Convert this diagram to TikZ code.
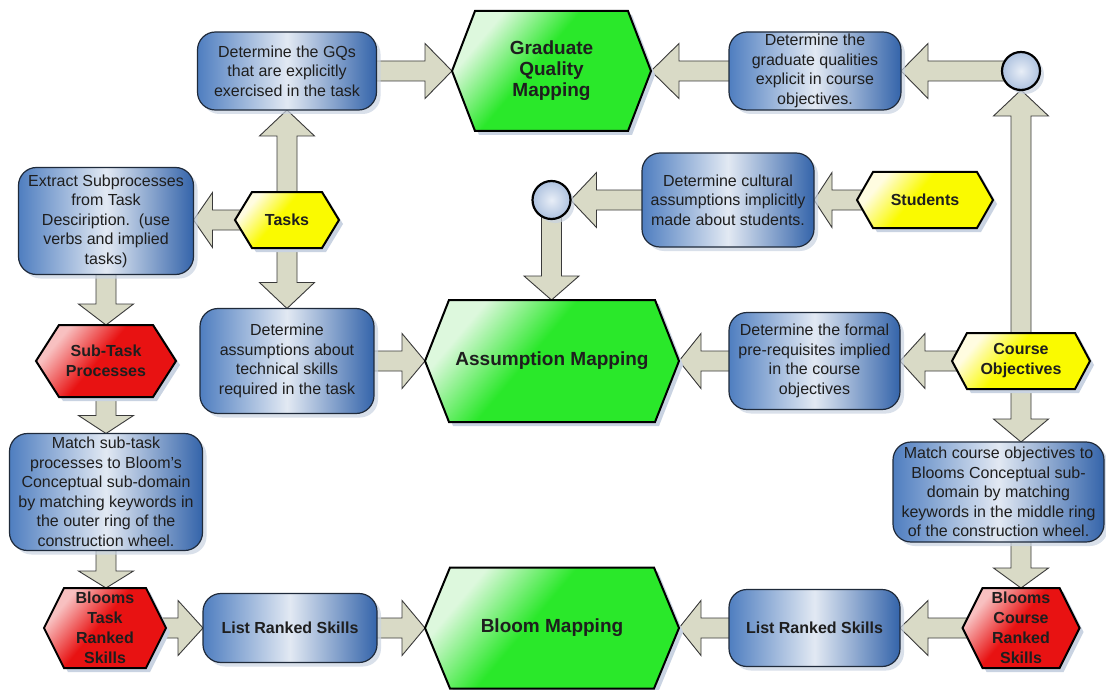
\documentclass[tikz,border=0pt]{standalone}
\usepackage{fontspec}
\setmainfont{Liberation Sans}
\usetikzlibrary{calc,shadows}
\definecolor{arrfill}{HTML}{D9DAC6}
\definecolor{arrdraw}{HTML}{3A3A3A}
\definecolor{boxL}{HTML}{4F7EC0}
\definecolor{boxM}{HTML}{E2E9F3}
\definecolor{boxR}{HTML}{3464AA}
\definecolor{boxD}{HTML}{1F2A3A}
\definecolor{grnc}{HTML}{2AE82A}
\definecolor{grnlt}{HTML}{DDF8DD}
\definecolor{yelc}{HTML}{FAFA00}
\definecolor{yellt}{HTML}{FFFCE0}
\definecolor{redc}{HTML}{E81212}
\definecolor{redlt}{HTML}{F8C0C0}
\definecolor{circin}{HTML}{E8EEF7}
\definecolor{circout}{HTML}{AEC2DF}
\definecolor{shadowc}{HTML}{C9D3E2}
\definecolor{txt}{HTML}{1E1E1E}
\pgfdeclarehorizontalshading{grnsh}{100bp}{color(0bp)=(grnlt); color(27bp)=(grnlt); color(45bp)=(grnc); color(100bp)=(grnc)}
\pgfdeclarehorizontalshading{yelsh}{100bp}{color(0bp)=(yellt); color(27bp)=(yellt); color(45bp)=(yelc); color(100bp)=(yelc)}
\pgfdeclarehorizontalshading{redsh}{100bp}{color(0bp)=(redlt); color(27bp)=(redlt); color(47bp)=(redc); color(100bp)=(redc)}
\pgfdeclarelayer{bg}
\pgfdeclarelayer{arrows}
\pgfdeclarelayer{shapes}
\pgfsetlayers{bg,arrows,shapes,main}
\newcommand\bigbold{\bfseries\fontsize{19}{21}\selectfont}
\newcommand\smallbold{\bfseries\fontsize{16}{20}\selectfont}
\newcommand\blockarr[3][24]{%
  \coordinate (bA) at #2;
  \coordinate (bB) at #3;
  \coordinate (bH) at ($(bB)!#1pt!(bA)$);
  \path[arrowsty] ($(bA)!10pt!90:(bB)$) -- ($(bH)!10pt!90:(bB)$) -- ($(bH)!27.5pt!90:(bB)$) -- (bB) -- ($(bH)!27.5pt!-90:(bB)$) -- ($(bH)!10pt!-90:(bB)$) -- ($(bA)!10pt!-90:(bB)$) -- cycle;
}
\newcommand\hexnode[8]{%
  \node[hexframe, minimum width=#3, minimum height=#4] (#1) at #2 {};
  \node[hextext, font=#7] (#1-t) at (#1) {#8};
  \begin{pgfonlayer}{shapes}
    \path[fill=shadowc] ([xshift=4,yshift=-4]#1.west) -- ([xshift=#5+4,yshift=-4]#1.north west) -- ([xshift=-#5+4,yshift=-4]#1.north east) -- ([xshift=4,yshift=-4]#1.east) -- ([xshift=-#5+4,yshift=-4]#1.south east) -- ([xshift=#5+4,yshift=-4]#1.south west) -- cycle;
    \path[#6] (#1.west) -- ([xshift=#5]#1.north west) -- ([xshift=-#5]#1.north east) -- (#1.east) -- ([xshift=-#5]#1.south east) -- ([xshift=#5]#1.south west) -- cycle;
  \end{pgfonlayer}
}
\tikzset{
  arrowsty/.style={fill=arrfill, draw=arrdraw, line width=0.9pt, line join=miter},
  box/.style={rectangle, rounded corners=18pt, draw=boxD, line width=1.2pt,
    left color=boxL, right color=boxR, middle color=boxM,
    inner sep=0pt, outer sep=0pt, align=center, text=txt,
    font=\fontsize{16}{19.5}\selectfont,
    drop shadow={shadow xshift=4pt, shadow yshift=-4pt, fill=shadowc, opacity=0.7}},
  boldbox/.style={font=\bfseries\fontsize{16}{19.5}\selectfont},
  circ/.style={circle, minimum size=38pt, inner sep=0pt, outer sep=0pt, draw=black, line width=2.2pt,
    inner color=circin, outer color=circout,
    drop shadow={shadow xshift=4pt, shadow yshift=-4pt, fill=shadowc, opacity=0.7}},
  hexframe/.style={rectangle, inner sep=0pt, outer sep=0pt},
  hextext/.style={inner sep=0pt, align=center, text=txt},
  greenhex/.style={draw=black, line width=2pt, shading=grnsh, shading angle=-40},
  yellowhex/.style={draw=black, line width=2pt, shading=yelsh, shading angle=-40},
  redhex/.style={draw=black, line width=2pt, shading=redsh, shading angle=-40}
}
\begin{document}
\begin{tikzpicture}[x=1pt,y=-1pt]
\useasboundingbox (0,0) rectangle (1106,690);
\begin{pgfonlayer}{bg}
\fill[white] (0,0) rectangle (1106,690);
\end{pgfonlayer}

% rounded boxes
\node[box, minimum width=179, minimum height=78] (gqs) at (287,71) {Determine the GQs\\that are explicitly\\exercised in the task};
\node[box, minimum width=172, minimum height=78] (gqc) at (815,71) {Determine the\\graduate qualities\\explicit in course\\objectives.};
\node[box, minimum width=175, minimum height=107] (ext) at (106,221) {Extract Subprocesses\\from Task\\Desciription.\ \ (use\\verbs and implied\\tasks)};
\node[box, minimum width=172, minimum height=94] (cult) at (728,200) {Determine cultural\\assumptions implicitly\\made about students.};
\node[box, minimum width=174, minimum height=105] (asm) at (287,361) {Determine\\assumptions about\\technical skills\\required in the task};
\node[box, minimum width=171, minimum height=97] (formal) at (814.5,361) {Determine the formal\\pre-requisites implied\\in the course\\objectives};
\node[box, minimum width=193, minimum height=117] (msub) at (106,492) {Match sub-task\\processes to Bloom’s\\Conceptual sub-domain\\by matching keywords in\\the outer ring of the\\construction wheel.};
\node[box, minimum width=211, minimum height=100] (mco) at (998.5,492) {Match course objectives to\\Blooms Conceptual sub-\\domain by matching\\keywords in the middle ring\\of the construction wheel.};
\node[box, boldbox, minimum width=174, minimum height=69] (listl) at (290,628) {List Ranked Skills};
\node[box, boldbox, minimum width=171, minimum height=77] (listr) at (814.5,628) {List Ranked Skills};

% circles
\node[circ] (c1) at (1021,71) {};
\node[circ] (c2) at (551.5,200) {};

% hexagons
\hexnode{gqm}{(551.5,71)}{199}{120}{23}{greenhex}{\bigbold}{Graduate\\Quality\\Mapping}
\hexnode{tasks}{(287,220)}{104}{56}{17}{yellowhex}{\smallbold}{Tasks}
\hexnode{stud}{(925,200)}{136}{56}{16}{yellowhex}{\smallbold}{Students}
\hexnode{sub}{(106,361)}{140}{72}{23}{redhex}{\smallbold}{Sub-Task\\Processes}
\hexnode{am}{(552,361)}{254}{122}{24}{greenhex}{\bigbold}{Assumption Mapping}
\hexnode{co}{(1021,361)}{138}{56}{15}{yellowhex}{\smallbold}{Course\\Objectives}
\hexnode{btrs}{(105,628)}{122}{80}{20}{redhex}{\smallbold}{Blooms\\Task\\Ranked\\Skills}
\hexnode{bm}{(552,628)}{254}{121}{25}{greenhex}{\bigbold}{Bloom Mapping}
\hexnode{bcrs}{(1021,628)}{117}{80}{20}{redhex}{\smallbold}{Blooms\\Course\\Ranked\\Skills}

% block arrows
\begin{pgfonlayer}{arrows}
\blockarr[26]{(tasks)}{(gqs.south)}
\blockarr[19]{(tasks)}{(ext.east |- tasks)}
\blockarr[26]{(tasks)}{(asm.north)}
\blockarr[27]{(gqs)}{(gqm.west)}
\blockarr[28]{(gqc)}{(gqm.east)}
\blockarr[27]{(c1)}{(gqc.east)}
\blockarr[26]{(co)}{(c1.south)}
\blockarr[26]{(cult)}{(c2.east)}
\blockarr[18]{(stud)}{(cult.east)}
\blockarr[24]{(c2)}{(c2 |- am.north)}
\blockarr[21]{(ext)}{(sub.north)}
\blockarr[18]{(sub)}{(msub.north)}
\blockarr[17]{(msub)}{(msub |- btrs.north)}
\blockarr[23]{(asm)}{(am.west)}
\blockarr[22]{(formal)}{(am.east)}
\blockarr[25]{(co)}{(formal.east)}
\blockarr[23]{(co)}{(co |- mco.north)}
\blockarr[20]{(co |- mco)}{(bcrs.north)}
\blockarr[25]{(btrs)}{(listl.west)}
\blockarr[23]{(listl)}{(bm.west)}
\blockarr[22]{(listr)}{(bm.east)}
\blockarr[28]{(bcrs)}{(listr.east)}
\end{pgfonlayer}
\end{tikzpicture}
\end{document}
